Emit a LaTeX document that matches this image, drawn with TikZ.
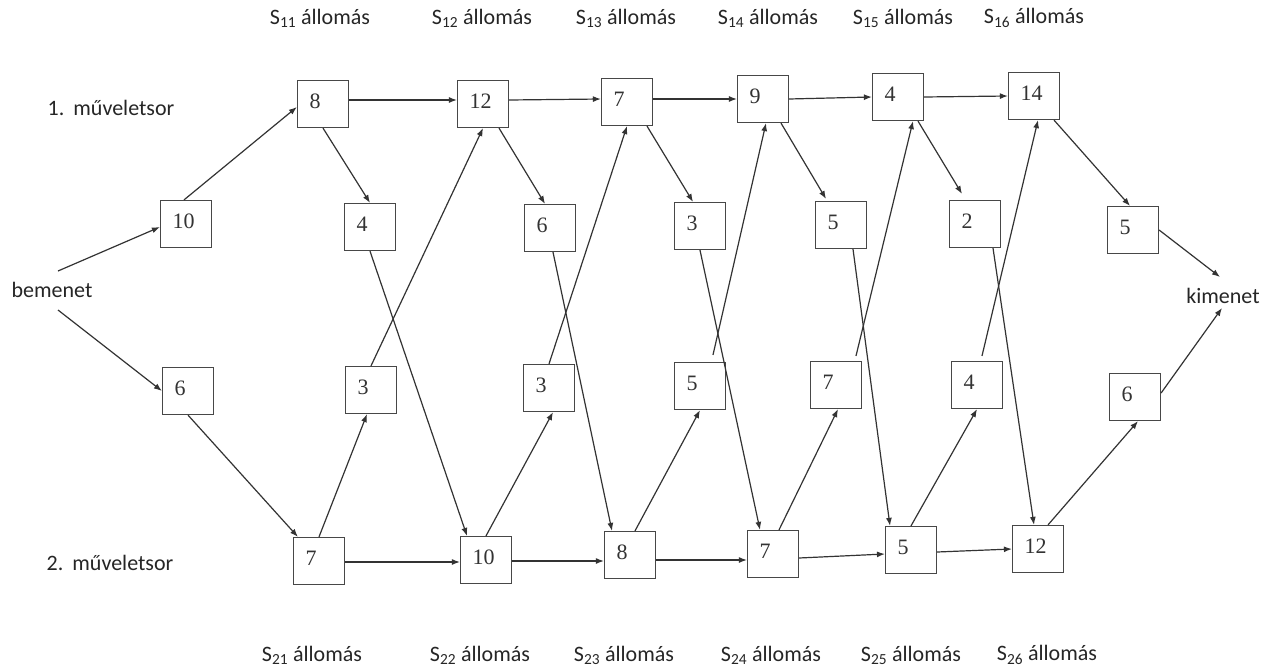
\documentclass[tikz,border=0pt]{standalone}
\usepackage{fontspec}
\setmainfont{Carlito}
\newfontfamily\numfont{Liberation Serif}
\usetikzlibrary{arrows.meta}
\begin{document}
\begin{tikzpicture}[x=1pt,y=-1pt,
  box/.style={draw=black!72, line width=1.2pt, minimum width=51pt, minimum height=47pt,
    text width=27pt, inner xsep=12pt, inner ysep=0pt, align=left,
    text height=15pt, text depth=6pt, font=\numfont\fontsize{22}{22}\selectfont, text=black!80},
  lab/.style={font=\fontsize{22}{24}\selectfont, text=black!85, inner sep=0pt},
  arr/.style={draw=black!80, line width=1.2pt, -{Latex[length=8pt,width=6pt]}}
]
\fill[white] (0,0) rectangle (1280,672);
\useasboundingbox (0,0) rectangle (1280,672);

% station labels
\node[lab] (s11) at (320,18) {S\textsubscript{11} állomás};
\node[lab] (s12) at (482,18) {S\textsubscript{12} állomás};
\node[lab] (s13) at (626,18) {S\textsubscript{13} állomás};
\node[lab] (s14) at (768,18) {S\textsubscript{14} állomás};
\node[lab] (s15) at (903,18) {S\textsubscript{15} állomás};
\node[lab] (s16) at (1034,18) {S\textsubscript{16} állomás};
\node[lab] (s21) at (312,655) {S\textsubscript{21} állomás};
\node[lab] (s22) at (480,655) {S\textsubscript{22} állomás};
\node[lab] (s23) at (624,655) {S\textsubscript{23} állomás};
\node[lab] (s24) at (771,655) {S\textsubscript{24} állomás};
\node[lab] (s25) at (911,655) {S\textsubscript{25} állomás};
\node[lab] (s26) at (1047,655) {S\textsubscript{26} állomás};

\node[lab] (sor1) at (111,108) {1.\hspace{9pt}műveletsor};
\node[lab] (sor2) at (110,563) {2.\hspace{9pt}műveletsor};
\node[lab] (be) at (52,290) {bemenet};
\node[lab] (ki) at (1223,296) {kimenet};

\coordinate (in1) at (58,271);
\coordinate (in2) at (58,310);
\coordinate (out1) at (1220,277);
\coordinate (out2) at (1222,308);

% row 1
\node[box] (t1) at (323,104) {8};
\node[box] (t2) at (483,104) {12};
\node[box] (t3) at (627,102) {7};
\node[box] (t4) at (763,99) {9};
\node[box] (t5) at (898,97) {4};
\node[box] (t6) at (1034,96) {14};
% upper middle
\node[box] (u0) at (186,224) {10};
\node[box] (u1) at (370,227) {4};
\node[box] (u2) at (550,228) {6};
\node[box] (u3) at (700,226) {3};
\node[box] (u4) at (841,225) {5};
\node[box] (u5) at (975,224) {2};
\node[box] (u6) at (1133,230) {5};
% lower middle
\node[box] (l0) at (188,391) {6};
\node[box] (l1) at (371,390) {3};
\node[box] (l2) at (549,388) {3};
\node[box] (l3) at (700,386) {5};
\node[box] (l4) at (836,385) {7};
\node[box] (l5) at (977,385) {4};
\node[box] (l6) at (1135,397) {6};
% row 2
\node[box] (b1) at (319,561) {7};
\node[box] (b2) at (486,560) {10};
\node[box] (b3) at (630,555) {8};
\node[box] (b4) at (773,554) {7};
\node[box] (b5) at (911,550) {5};
\node[box] (b6) at (1038,549) {12};

% input / output
\draw[arr] (in1) -- ([yshift=-3pt]u0.west);
\draw[arr] (in2) -- (l0.west);
\draw[arr] ([xshift=-2pt]u0.north) -- ([yshift=-3pt]t1.west);
\draw[arr] (l0.south) -- ([xshift=5pt]b1.north west);
\draw[arr] (u6.east) -- (out1);
\draw[arr] ([yshift=4pt]l6.east) -- (out2);

% row 1 horizontal
\draw[arr] ([yshift=4pt]t1.east) -- ([yshift=4pt]t2.west);
\draw[arr] ([yshift=4pt]t2.east) -- ([yshift=3pt]t3.west);
\draw[arr] ([yshift=3pt]t3.east) -- (t4.west);
\draw[arr] (t4.east) -- (t5.west);
\draw[arr] (t5.east) -- (t6.west);
% row 2 horizontal
\draw[arr] ([yshift=-1pt]b1.east) -- ([yshift=-2pt]b2.west);
\draw[arr] ([yshift=-1pt]b2.east) -- ([yshift=-6pt]b3.west);
\draw[arr] ([yshift=-5pt]b3.east) -- ([yshift=-6pt]b4.west);
\draw[arr] ([yshift=-4pt]b4.east) -- ([yshift=-4pt]b5.west);
\draw[arr] ([yshift=-2pt]b5.east) -- (b6.west);

% row 1 down to upper middle
\draw[arr] (t1.south) -- (u1.north);
\draw[arr] ([xshift=16pt]t2.south) -- ([xshift=-5pt]u2.north);
\draw[arr] ([xshift=20pt]t3.south) -- ([xshift=-7pt]u3.north);
\draw[arr] ([xshift=18pt]t4.south) -- ([xshift=-15pt,yshift=2pt]u4.north);
\draw[arr] ([xshift=20pt]t5.south) -- ([xshift=-13pt,yshift=6pt]u5.north);
\draw[arr] ([xshift=20pt]t6.south) -- ([xshift=-3pt]u6.north);

% row 2 up to lower middle
\draw[arr] (b1.north) -- ([xshift=-4pt]l1.south);
\draw[arr] (b2.north) -- ([xshift=4pt]l2.south);
\draw[arr] ([xshift=5pt]b3.north) -- (l3.south);
\draw[arr] ([xshift=6pt]b4.north) -- ([xshift=2pt]l4.south);
\draw[arr] (b5.north) -- (l5.south);
\draw[arr] ([xshift=10pt]b6.north) -- ([xshift=3pt]l6.south);

% lower middle up to row 1
\draw[arr] (l1.north) -- (t2.south);
\draw[arr] (l2.north) -- (t3.south);
\draw[arr] ([xshift=13pt,yshift=7pt]l3.north) -- ([xshift=3pt]t4.south);
\draw[arr] ([xshift=20pt,yshift=5pt]l4.north) -- ([xshift=15pt]t5.south);
\draw[arr] ([xshift=5pt,yshift=5pt]l5.north) -- ([xshift=4pt]t6.south);

% upper middle down to row 2
\draw[arr] (u1.south) -- ([xshift=-19pt]b2.north);
\draw[arr] ([xshift=3pt]u2.south) -- ([xshift=-18pt]b3.north);
\draw[arr] (u3.south) -- ([xshift=-13pt]b4.north);
\draw[arr] ([xshift=12pt]u4.south) -- ([xshift=-21pt]b5.north);
\draw[arr] ([xshift=18pt]u5.south) -- ([xshift=-4pt]b6.north);
\end{tikzpicture}
\end{document}
